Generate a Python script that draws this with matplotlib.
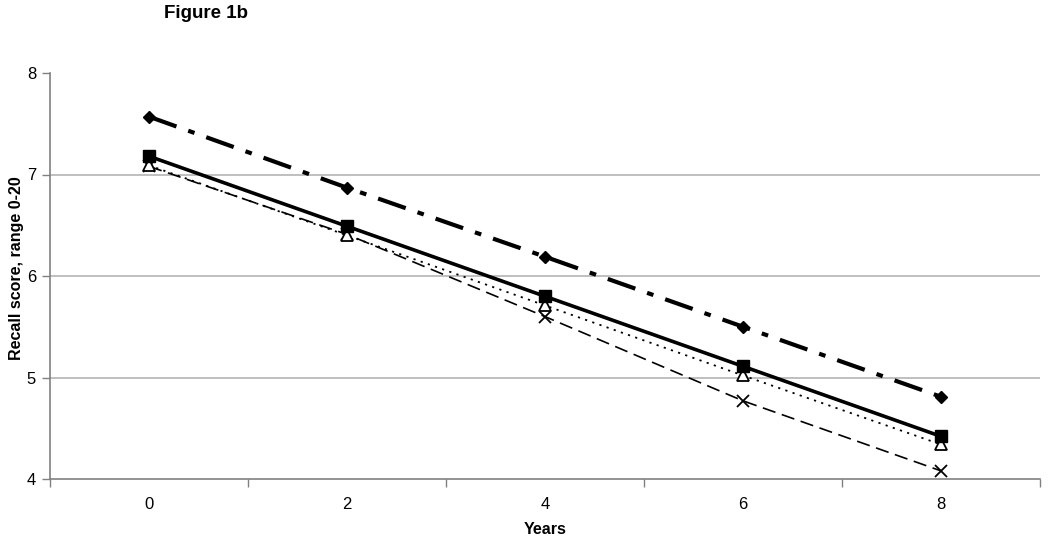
import matplotlib
matplotlib.use("Agg")
import matplotlib.pyplot as plt
import numpy as np

years = ["0", "2", "4", "6", "8"]
series_diamond = [7.57, 6.87, 6.19, 5.50, 4.81]
series_square = [7.18, 6.49, 5.80, 5.11, 4.42]
series_triangle = [7.09, 6.40, 5.71, 5.02, 4.34]
series_cross = [7.08, 6.41, 5.60, 4.77, 4.08]

plt.rcParams['font.family'] = ['Liberation Sans', 'DejaVu Sans']

fig = plt.figure(figsize=(10.5, 5.43), dpi=100)
ax = fig.add_axes([50/1050, (543-479)/543, 990/1050, (479-73)/543])

x = np.arange(len(years))

ax.plot(x, series_diamond, color='black', lw=3.0, dashes=(7, 3, 1.6, 3),
        marker='D', ms=6, mfc='black', mec='black', zorder=5)
ax.plot(x, series_square, color='black', lw=2.6, linestyle='-',
        marker='s', ms=8, mfc='black', mec='black', zorder=6)
ax.plot(x, series_triangle, color='black', lw=1.3, dashes=(1.2, 3),
        marker='^', ms=8, mfc='white', mec='black', mew=1.3, zorder=4)
ax.plot(x, series_cross, color='black', lw=1.2, dashes=(8, 4),
        marker='x', ms=9, mec='black', mew=1.3, zorder=3)

ax.set_xlim(-0.5, len(years) - 0.5)
ax.set_ylim(4, 8)
ax.set_yticks([4, 5, 6, 7, 8])
ax.set_yticklabels(["4", "5", "6", "7", "8"])
for yv in [5, 6, 7]:
    ax.axhline(yv, color='#b4b4b4', lw=1.2, zorder=1)

ax.set_xticks(x)
ax.set_xticklabels(years)
ax.set_xticks(np.arange(-0.5, len(years)), minor=True)
ax.tick_params(axis='x', which='major', length=0, pad=13, labelsize=12)
ax.tick_params(axis='x', which='minor', length=6, width=1, color='#808080', direction='out')
ax.tick_params(axis='y', which='major', length=6, width=1, color='#808080', direction='out', labelsize=12, pad=4)

for s in ['top', 'right']:
    ax.spines[s].set_visible(False)
for s in ['left', 'bottom']:
    ax.spines[s].set_color('#808080')
    ax.spines[s].set_linewidth(1.2)

ax.set_xlabel("Years", fontsize=11.5, fontweight='bold')
ax.xaxis.set_label_coords(0.5, -(529 - 479) / 406, transform=ax.transAxes)
ax.xaxis.label.set_va('center')
ax.set_ylabel("Recall score, range 0-20", fontsize=11.5, fontweight='bold')
ax.yaxis.set_label_coords(-(50 - 17) / 990, (479 - 268) / 406, transform=ax.transAxes)
ax.yaxis.label.set_va('center')
fig.text(206/1050, 1 - 14/543, "Figure 1b", fontsize=13.5, fontweight='bold', ha='center', va='center')

fig.savefig("out.png", dpi=100)
